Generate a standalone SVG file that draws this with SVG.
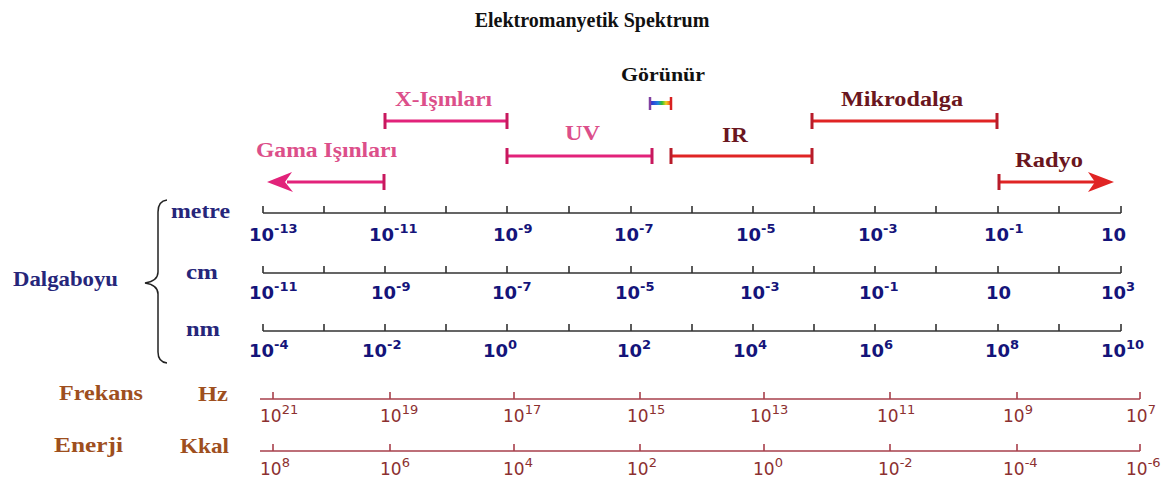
<svg xmlns="http://www.w3.org/2000/svg" width="1175" height="480" viewBox="0 0 1175 480">
<defs>
<style>
.ser{font-family:"Liberation Serif","Times New Roman",serif;font-weight:bold}
.title{font-size:20px;fill:#111}
.pinkT{font-size:20px;fill:#dc4f8a}
.redT{font-size:20px;fill:#6a1620}
.navyT{font-size:21px;fill:#26267a}
.brownT{font-size:21px;fill:#9e4f1e}
.wl{font-family:"DejaVu Sans",Verdana,sans-serif;font-weight:bold;font-size:18px;fill:#14147a}
.fl{font-family:"DejaVu Sans",Verdana,sans-serif;font-size:17px;fill:#8c3030}
.sup{font-size:13px}
.pinkBar{stroke:#e2227a;stroke-width:3;fill:none}
.pinkCap{stroke:#c8185e;stroke-width:3;fill:none}
.redBar{stroke:#e02424;stroke-width:3;fill:none}
.redCap{stroke:#b81c2a;stroke-width:3;fill:none}
.axis{stroke:#333;stroke-width:1.6;fill:none}
.faxis{stroke:#a8404c;stroke-width:1.6;fill:none}
</style>
<linearGradient id="rainbow" x1="0" x2="1" y1="0" y2="0">
<stop offset="0" stop-color="#3030d0"/>
<stop offset="0.35" stop-color="#2080e0"/>
<stop offset="0.55" stop-color="#30c030"/>
<stop offset="0.75" stop-color="#f0d020"/>
<stop offset="1" stop-color="#f04020"/>
</linearGradient>
</defs>
<rect width="1175" height="480" fill="#fff"/>

<g id="title"><text class="ser title" x="592" y="27" text-anchor="middle">Elektromanyetik Spektrum</text></g>

<g id="connectors">
<!-- Gamma -->
<path class="pinkBar" d="M384 182 H287"/>
<path class="pinkCap" d="M384 174 V190"/>
<path d="M267 182 L292 172 L285 182 L293 192 Z" fill="#e2227a"/>
<!-- X-ray -->
<path class="pinkBar" d="M385 121 H507"/>
<path class="pinkCap" d="M385 113 V129 M507 113 V129"/>
<!-- UV -->
<path class="pinkBar" d="M507 156 H652"/>
<path class="pinkCap" d="M507 148 V164 M652 148 V164"/>
<!-- Visible -->
<rect x="651" y="101" width="20" height="4" fill="url(#rainbow)"/>
<path d="M650 97 V110" stroke="#8040a0" stroke-width="2.5"/>
<path d="M671 97 V110" stroke="#d82020" stroke-width="2.5"/>
<!-- IR -->
<path class="redBar" d="M671 156 H812"/>
<path class="redCap" d="M671 148 V164 M812 148 V164"/>
<!-- Microwave -->
<path class="redBar" d="M812 121 H997"/>
<path class="redCap" d="M812 113 V129 M997 113 V129"/>
<!-- Radio -->
<path class="redBar" d="M999 182 H1095"/>
<path class="redCap" d="M999 174 V190"/>
<path d="M1114 182 L1088 172 L1095 182 L1088 192 Z" fill="#e02424"/>
</g>

<g id="band-labels">
<text class="ser" x="621" y="81" font-size="19" fill="#111" textLength="84" lengthAdjust="spacingAndGlyphs">Görünür</text>
<text class="ser pinkT" x="395" y="106" textLength="97" lengthAdjust="spacingAndGlyphs">X-Işınları</text>
<text class="ser pinkT" x="256" y="157" textLength="141" lengthAdjust="spacingAndGlyphs">Gama Işınları</text>
<text class="ser pinkT" x="565" y="140" textLength="35" lengthAdjust="spacingAndGlyphs">UV</text>
<text class="ser redT" x="722" y="142" textLength="26" lengthAdjust="spacingAndGlyphs">IR</text>
<text class="ser redT" x="841" y="106" textLength="122" lengthAdjust="spacingAndGlyphs">Mikrodalga</text>
<text class="ser redT" x="1015" y="167" textLength="68" lengthAdjust="spacingAndGlyphs">Radyo</text>
</g>

<g id="left-labels">
<path d="M167 200 Q158 201 158 212 V272 Q158 281 145 283 Q158 285 158 294 V352 Q158 362 167 363" fill="none" stroke="#222" stroke-width="1.5"/>
<text class="ser navyT" x="13" y="286" textLength="105" lengthAdjust="spacingAndGlyphs">Dalgaboyu</text>
<text class="ser navyT" x="171" y="218" textLength="59" lengthAdjust="spacingAndGlyphs">metre</text>
<text class="ser navyT" x="186" y="279" textLength="32" lengthAdjust="spacingAndGlyphs">cm</text>
<text class="ser navyT" x="186" y="336" textLength="34" lengthAdjust="spacingAndGlyphs">nm</text>
<text class="ser brownT" x="59" y="400" textLength="84" lengthAdjust="spacingAndGlyphs">Frekans</text>
<text class="ser brownT" x="198" y="401" textLength="30" lengthAdjust="spacingAndGlyphs">Hz</text>
<text class="ser brownT" x="54" y="452" textLength="69" lengthAdjust="spacingAndGlyphs">Enerji</text>
<text class="ser brownT" x="180" y="453" textLength="49" lengthAdjust="spacingAndGlyphs">Kkal</text>
</g>

<g id="metre-axis">
<path class="axis" d="M263 213 H1121 M263 206 V213 M324 206 V213 M385 206 V213 M446 206 V213 M507 206 V213 M569 206 V213 M631 206 V213 M692 206 V213 M753 206 V213 M814 206 V213 M875 206 V213 M936 206 V213 M998 206 V213 M1059 206 V213 M1121 206 V213"/>
<text class="wl" x="249" y="241">10<tspan class="sup" dy="-8">-13</tspan></text>
<text class="wl" x="369" y="241">10<tspan class="sup" dy="-8">-11</tspan></text>
<text class="wl" x="493" y="241">10<tspan class="sup" dy="-8">-9</tspan></text>
<text class="wl" x="614" y="241">10<tspan class="sup" dy="-8">-7</tspan></text>
<text class="wl" x="736" y="241">10<tspan class="sup" dy="-8">-5</tspan></text>
<text class="wl" x="858" y="241">10<tspan class="sup" dy="-8">-3</tspan></text>
<text class="wl" x="984" y="241">10<tspan class="sup" dy="-8">-1</tspan></text>
<text class="wl" x="1101" y="241">10</text>
</g>

<g id="cm-axis">
<path class="axis" d="M263 273 H1121 M263 266 V273 M324 266 V273 M385 266 V273 M446 266 V273 M507 266 V273 M569 266 V273 M631 266 V273 M692 266 V273 M753 266 V273 M814 266 V273 M875 266 V273 M936 266 V273 M998 266 V273 M1059 266 V273 M1121 266 V273"/>
<text class="wl" x="249" y="299">10<tspan class="sup" dy="-8">-11</tspan></text>
<text class="wl" x="371" y="299">10<tspan class="sup" dy="-8">-9</tspan></text>
<text class="wl" x="492" y="299">10<tspan class="sup" dy="-8">-7</tspan></text>
<text class="wl" x="615" y="299">10<tspan class="sup" dy="-8">-5</tspan></text>
<text class="wl" x="740" y="299">10<tspan class="sup" dy="-8">-3</tspan></text>
<text class="wl" x="859" y="299">10<tspan class="sup" dy="-8">-1</tspan></text>
<text class="wl" x="986" y="299">10</text>
<text class="wl" x="1101" y="299">10<tspan class="sup" dy="-8">3</tspan></text>
</g>

<g id="nm-axis">
<path class="axis" d="M263 331 H1121 M263 324 V331 M324 324 V331 M385 324 V331 M446 324 V331 M507 324 V331 M569 324 V331 M631 324 V331 M692 324 V331 M753 324 V331 M814 324 V331 M875 324 V331 M936 324 V331 M998 324 V331 M1059 324 V331 M1121 324 V331"/>
<text class="wl" x="249" y="357">10<tspan class="sup" dy="-8">-4</tspan></text>
<text class="wl" x="362" y="357">10<tspan class="sup" dy="-8">-2</tspan></text>
<text class="wl" x="483" y="357">10<tspan class="sup" dy="-8">0</tspan></text>
<text class="wl" x="617" y="357">10<tspan class="sup" dy="-8">2</tspan></text>
<text class="wl" x="733" y="357">10<tspan class="sup" dy="-8">4</tspan></text>
<text class="wl" x="859" y="357">10<tspan class="sup" dy="-8">6</tspan></text>
<text class="wl" x="985" y="357">10<tspan class="sup" dy="-8">8</tspan></text>
<text class="wl" x="1101" y="357">10<tspan class="sup" dy="-8">10</tspan></text>
</g>

<g id="hz-axis">
<path class="faxis" d="M260 399 H1140 M273 392 V399 M390 392 V399 M514 392 V399 M640 392 V399 M764 392 V399 M890 392 V399 M1017 392 V399 M1140 392 V399"/>
<text class="fl" x="260" y="422">10<tspan class="sup" dy="-8">21</tspan></text>
<text class="fl" x="380" y="422">10<tspan class="sup" dy="-8">19</tspan></text>
<text class="fl" x="503" y="422">10<tspan class="sup" dy="-8">17</tspan></text>
<text class="fl" x="627" y="422">10<tspan class="sup" dy="-8">15</tspan></text>
<text class="fl" x="750" y="422">10<tspan class="sup" dy="-8">13</tspan></text>
<text class="fl" x="877" y="422">10<tspan class="sup" dy="-8">11</tspan></text>
<text class="fl" x="1003" y="422">10<tspan class="sup" dy="-8">9</tspan></text>
<text class="fl" x="1126" y="422">10<tspan class="sup" dy="-8">7</tspan></text>
</g>

<g id="kkal-axis">
<path class="faxis" d="M260 451 H1140 M273 444 V451 M390 444 V451 M514 444 V451 M640 444 V451 M764 444 V451 M890 444 V451 M1017 444 V451 M1140 444 V451"/>
<text class="fl" x="260" y="475">10<tspan class="sup" dy="-8">8</tspan></text>
<text class="fl" x="380" y="475">10<tspan class="sup" dy="-8">6</tspan></text>
<text class="fl" x="503" y="475">10<tspan class="sup" dy="-8">4</tspan></text>
<text class="fl" x="627" y="475">10<tspan class="sup" dy="-8">2</tspan></text>
<text class="fl" x="753" y="475">10<tspan class="sup" dy="-8">0</tspan></text>
<text class="fl" x="878" y="475">10<tspan class="sup" dy="-8">-2</tspan></text>
<text class="fl" x="1003" y="475">10<tspan class="sup" dy="-8">-4</tspan></text>
<text class="fl" x="1126" y="475">10<tspan class="sup" dy="-8">-6</tspan></text>
</g>
</svg>
